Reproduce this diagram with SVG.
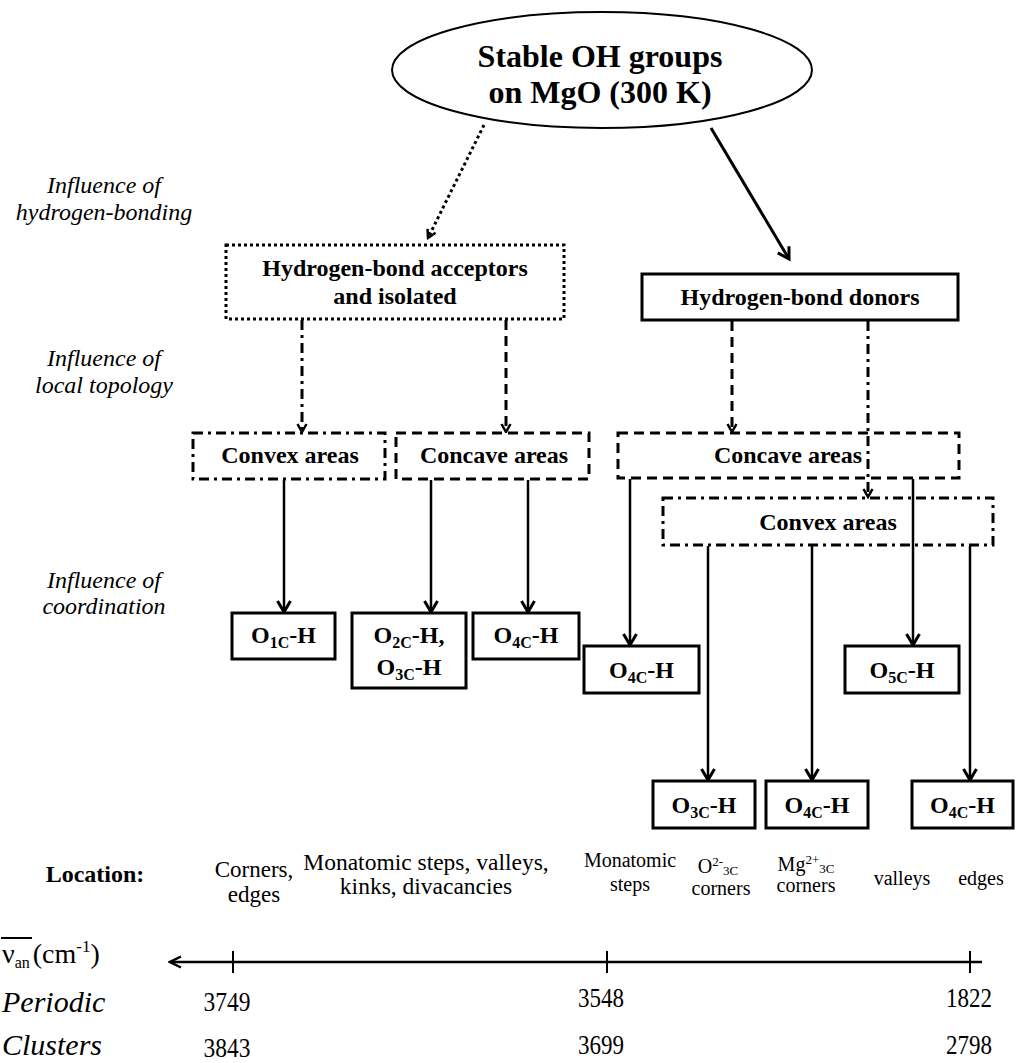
<svg xmlns="http://www.w3.org/2000/svg" width="1016" height="1063" viewBox="0 0 1016 1063" font-family="Liberation Serif, Times New Roman, serif">
<defs>
<style>
text{font-family:'Liberation Serif','Times New Roman',serif;fill:#000}
.bold{font-weight:bold}
.ital{font-style:italic}
.box{fill:#fff;stroke:#000;stroke-width:3}
.dashed{stroke-dasharray:10,6}
.dashdot{stroke-dasharray:10,5,3,5}
.dotted{stroke-dasharray:3,3}
.conn{fill:none;stroke:#000}
</style>
<marker id="big" markerUnits="userSpaceOnUse" markerWidth="16" markerHeight="16" viewBox="0 0 16 16" refX="13" refY="8" orient="auto">
<path d="M2,1.5 L13,8 L2,14.5" fill="none" stroke="#000" stroke-width="3"/>
</marker>
<marker id="small" markerUnits="userSpaceOnUse" markerWidth="12" markerHeight="12" viewBox="0 0 12 12" refX="10" refY="6" orient="auto">
<path d="M2,1.5 L10,6 L2,10.5" fill="none" stroke="#000" stroke-width="2.5"/>
</marker>
<marker id="axis" markerUnits="userSpaceOnUse" markerWidth="16" markerHeight="14" viewBox="0 0 16 14" refX="14" refY="7" orient="auto">
<path d="M3,1.5 L14,7 L3,12.5" fill="none" stroke="#000" stroke-width="2.5"/>
</marker>
</defs>
<rect width="1016" height="1063" fill="#fff"/>

<g id="levels">
<text class="ital" font-size="24" text-anchor="middle"><tspan x="104" y="193">Influence of</tspan><tspan x="104" y="220">hydrogen-bonding</tspan></text>
<text class="ital" font-size="24" text-anchor="middle"><tspan x="104" y="366">Influence of</tspan><tspan x="104" y="393">local topology</tspan></text>
<text class="ital" font-size="24" text-anchor="middle"><tspan x="104" y="588">Influence of</tspan><tspan x="104" y="614">coordination</tspan></text>
</g>

<g id="connectors">
<path class="conn dotted" stroke-width="3" d="M484,125 L428,238" marker-end="url(#small)"/>
<path class="conn" stroke-width="3" d="M711,128 L789,259" marker-end="url(#big)"/>
<path class="conn dashdot" stroke-width="3" d="M302,320 V432" marker-end="url(#small)"/>
<path class="conn dashed" stroke-width="3" d="M506,320 V432" marker-end="url(#small)"/>
<path class="conn dashed" stroke-width="3" d="M732,321 V432" marker-end="url(#small)"/>
<path class="conn dashdot" stroke-width="3" d="M868,321 V497" marker-end="url(#small)"/>
<path class="conn" stroke-width="2.5" d="M284,480 V612" marker-end="url(#big)"/>
<path class="conn" stroke-width="2.5" d="M431,480 V612" marker-end="url(#big)"/>
<path class="conn" stroke-width="2.5" d="M528,480 V612" marker-end="url(#big)"/>
<path class="conn" stroke-width="2.5" d="M630,479 V645" marker-end="url(#big)"/>
<path class="conn" stroke-width="2.5" d="M913,479 V645" marker-end="url(#big)"/>
<path class="conn" stroke-width="2.5" d="M708,546 V780" marker-end="url(#big)"/>
<path class="conn" stroke-width="2.5" d="M812,546 V780" marker-end="url(#big)"/>
<path class="conn" stroke-width="2.5" d="M970,546 V780" marker-end="url(#big)"/>
</g>

<g id="root">
<ellipse cx="602" cy="70" rx="210" ry="58" fill="#fff" stroke="#000" stroke-width="2"/>
<text class="bold" font-size="32" text-anchor="middle"><tspan x="600" y="67">Stable OH groups</tspan><tspan x="600" y="103">on MgO (300 K)</tspan></text>
</g>

<g id="acceptors">
<rect class="box dotted" x="226" y="245" width="338" height="74"/>
<text class="bold" font-size="24" text-anchor="middle"><tspan x="395" y="276">Hydrogen-bond acceptors</tspan><tspan x="395" y="304">and isolated</tspan></text>
</g>

<g id="donors">
<rect class="box" x="642" y="274" width="316" height="46"/>
<text class="bold" font-size="24" text-anchor="middle" x="800" y="305">Hydrogen-bond donors</text>
</g>

<g id="convex-left">
<rect class="box dashdot" x="193" y="433" width="192" height="46"/>
<text class="bold" font-size="24" text-anchor="middle" x="290" y="463">Convex areas</text>
</g>

<g id="concave-left">
<rect class="box dashed" x="396" y="433" width="193" height="46"/>
<text class="bold" font-size="24" text-anchor="middle" x="494" y="463">Concave areas</text>
</g>

<g id="concave-right">
<rect class="box dashed" x="618" y="433" width="341" height="45" style="fill:none"/>
<text class="bold" font-size="24" text-anchor="middle" x="788" y="463">Concave areas</text>
</g>

<g id="convex-right">
<rect class="box dashdot" x="663" y="498" width="330" height="47" style="fill:none"/>
<text class="bold" font-size="24" text-anchor="middle" x="828" y="530">Convex areas</text>
</g>

<g id="o1c">
<rect class="box" x="232" y="613" width="103" height="46"/>
<text class="bold" font-size="24" text-anchor="middle" x="283.5" y="643">O<tspan font-size="16" dy="5">1C</tspan><tspan dy="-5">-H</tspan></text>
</g>

<g id="o2c-o3c">
<rect class="box" x="352" y="613" width="114" height="75"/>
<text class="bold" font-size="24" text-anchor="middle" x="409" y="643">O<tspan font-size="16" dy="5">2C</tspan><tspan dy="-5">-H,</tspan></text>
<text class="bold" font-size="24" text-anchor="middle" x="409" y="675">O<tspan font-size="16" dy="5">3C</tspan><tspan dy="-5">-H</tspan></text>
</g>

<g id="o4c-a">
<rect class="box" x="473" y="613" width="106" height="46"/>
<text class="bold" font-size="24" text-anchor="middle" x="526" y="643">O<tspan font-size="16" dy="5">4C</tspan><tspan dy="-5">-H</tspan></text>
</g>

<g id="o4c-b">
<rect class="box" x="584" y="646" width="115" height="47"/>
<text class="bold" font-size="24" text-anchor="middle" x="641.5" y="678">O<tspan font-size="16" dy="5">4C</tspan><tspan dy="-5">-H</tspan></text>
</g>

<g id="o5c">
<rect class="box" x="845" y="646" width="114" height="47"/>
<text class="bold" font-size="24" text-anchor="middle" x="902" y="678">O<tspan font-size="16" dy="5">5C</tspan><tspan dy="-5">-H</tspan></text>
</g>

<g id="o3c">
<rect class="box" x="653" y="781" width="102" height="47"/>
<text class="bold" font-size="24" text-anchor="middle" x="704" y="813">O<tspan font-size="16" dy="5">3C</tspan><tspan dy="-5">-H</tspan></text>
</g>

<g id="o4c-c">
<rect class="box" x="766" y="781" width="102" height="47"/>
<text class="bold" font-size="24" text-anchor="middle" x="817" y="813">O<tspan font-size="16" dy="5">4C</tspan><tspan dy="-5">-H</tspan></text>
</g>

<g id="o4c-d">
<rect class="box" x="912" y="781" width="101" height="47"/>
<text class="bold" font-size="24" text-anchor="middle" x="962.5" y="813">O<tspan font-size="16" dy="5">4C</tspan><tspan dy="-5">-H</tspan></text>
</g>

<g id="locations">
<text class="bold" font-size="24" text-anchor="middle" x="95" y="882">Location:</text>
<text font-size="23" text-anchor="middle"><tspan x="254" y="877">Corners,</tspan><tspan x="254" y="902">edges</tspan></text>
<text font-size="23.5" text-anchor="middle"><tspan x="426" y="870">Monatomic steps, valleys,</tspan><tspan x="426" y="894">kinks, divacancies</tspan></text>
<text font-size="20" text-anchor="middle"><tspan x="630" y="867">Monatomic</tspan><tspan x="630" y="891">steps</tspan></text>
<text font-size="20" text-anchor="middle" x="718" y="873">O<tspan font-size="13" dy="-7">2-</tspan><tspan font-size="13" dy="9">3C</tspan></text>
<text font-size="20" text-anchor="middle" x="721" y="895">corners</text>
<text font-size="20" text-anchor="middle" x="806" y="871">Mg<tspan font-size="13" dy="-7">2+</tspan><tspan font-size="13" dy="9">3C</tspan></text>
<text font-size="20" text-anchor="middle" x="806" y="892">corners</text>
<text font-size="20" text-anchor="middle" x="902" y="885">valleys</text>
<text font-size="20" text-anchor="middle" x="981" y="885">edges</text>
</g>

<g id="axis">
<path class="conn" stroke-width="2.5" d="M982,962 H170" marker-end="url(#axis)"/>
<path class="conn" stroke-width="2" d="M233,951 V973 M607,951 V973 M970,951 V973"/>
<line x1="1" y1="938" x2="32" y2="938" stroke="#000" stroke-width="2"/>
<text font-size="28" x="2" y="963">ν<tspan font-size="16" dy="5">an</tspan><tspan dy="-5" dx="3">(cm</tspan><tspan font-size="17" dy="-11">-1</tspan><tspan dy="11">)</tspan></text>
<text class="ital" font-size="30" x="2" y="1012">Periodic</text>
<text class="ital" font-size="30" x="2" y="1055">Clusters</text>
<text font-size="28" text-anchor="middle" x="227" y="1011" textLength="47" lengthAdjust="spacingAndGlyphs">3749</text>
<text font-size="28" text-anchor="middle" x="227" y="1057" textLength="47" lengthAdjust="spacingAndGlyphs">3843</text>
<text font-size="28" text-anchor="middle" x="601" y="1007" textLength="46" lengthAdjust="spacingAndGlyphs">3548</text>
<text font-size="28" text-anchor="middle" x="601" y="1054" textLength="46" lengthAdjust="spacingAndGlyphs">3699</text>
<text font-size="28" text-anchor="middle" x="969" y="1007" textLength="46" lengthAdjust="spacingAndGlyphs">1822</text>
<text font-size="28" text-anchor="middle" x="969" y="1054" textLength="46" lengthAdjust="spacingAndGlyphs">2798</text>
</g>
</svg>
